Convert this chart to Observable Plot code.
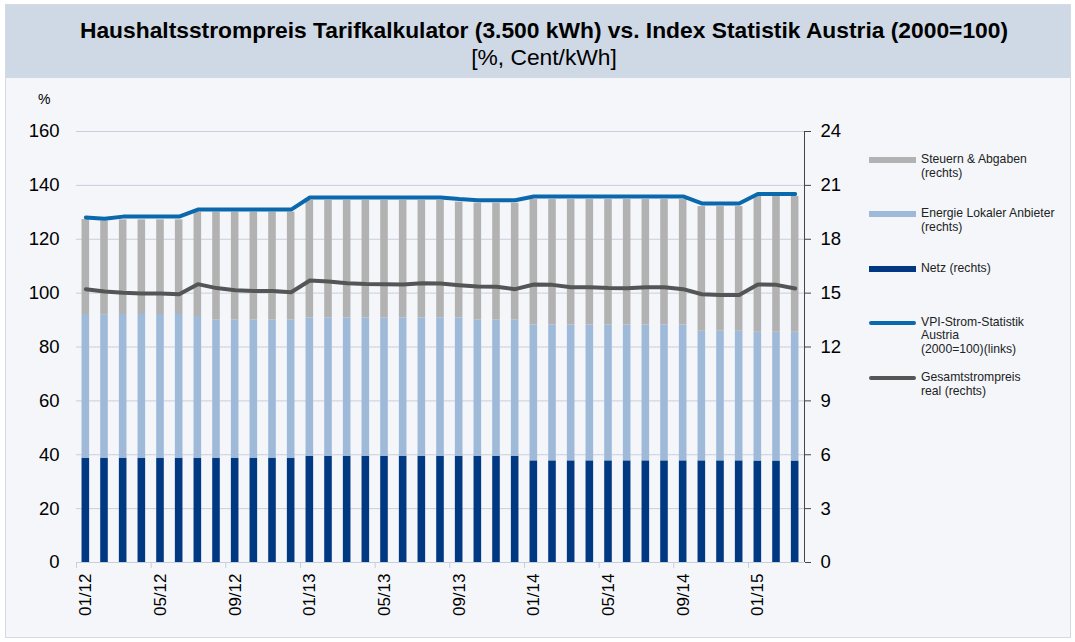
<!DOCTYPE html>
<html>
<head>
<meta charset="utf-8">
<script src="https://cdn.jsdelivr.net/npm/d3@7"></script>
<script src="https://cdn.jsdelivr.net/npm/@observablehq/plot@0.6"></script>
<style>
  html, body { margin: 0; padding: 0; background: #ffffff; }
  body { width: 1075px; height: 642px; position: relative; overflow: hidden; font-family: "Liberation Sans", Arial, sans-serif; }
  #frame { position: absolute; left: 5px; top: 4px; width: 1064px; height: 632px; background: #f4f6fa; border: 1px solid #d3dae4; }
  #titlebar { position: absolute; left: 6px; top: 5px; width: 1064px; height: 73px; background: #cfd9e5; }
  #title { position: absolute; left: 0; width: 1088px; top: 17px; text-align: center; font-weight: bold; font-size: 22.8px; line-height: 26px; color: #000; }
  #subtitle { position: absolute; left: 0; width: 1088px; top: 44px; text-align: center; font-size: 22.8px; line-height: 26px; color: #000; }
  #pct { position: absolute; left: 38px; top: 91px; font-size: 14px; color: #000; }
  #chart { position: absolute; left: 0; top: 80px; }
  .leg { position: absolute; left: 869px; font-size: 12.2px; line-height: 13.8px; color: #222; }
  .leg .sw { position: absolute; left: 0; width: 47px; }
  .leg .tx { position: absolute; left: 52px; width: 170px; }
</style>
</head>
<body>
<div id="frame"></div>
<div id="titlebar"></div>
<div id="title">Haushaltsstrompreis Tarifkalkulator (3.500 kWh) vs. Index Statistik Austria (2000=100)</div>
<div id="subtitle">[%, Cent/kWh]</div>
<div id="pct">%</div>
<div id="chart"></div>
<div id="legend"></div>
<script>
// ---- Data ----
const months = ["01/12","02/12","03/12","04/12","05/12","06/12","07/12","08/12","09/12","10/12","11/12","12/12",
                "01/13","02/13","03/13","04/13","05/13","06/13","07/13","08/13","09/13","10/13","11/13","12/13",
                "01/14","02/14","03/14","04/14","05/14","06/14","07/14","08/14","09/14","10/14","11/14","12/14",
                "01/15","02/15","03/15"];
const tickMonths = ["01/12","05/12","09/12","01/13","05/13","09/13","01/14","05/14","09/14","01/15"];

// Cent/kWh (right axis)
const netz = [5.81,5.81,5.81,5.81,5.81,5.81,5.81,5.81,5.81,5.81,5.81,5.81,
              5.92,5.92,5.92,5.92,5.92,5.92,5.92,5.92,5.92,5.92,5.92,5.92,
              5.66,5.66,5.66,5.66,5.66,5.66,5.66,5.66,5.66,5.66,5.66,5.66,
              5.65,5.65,5.65];
const energie = [8.00,7.96,8.00,8.00,8.00,8.00,7.89,7.70,7.70,7.70,7.70,7.70,
                 7.70,7.70,7.70,7.70,7.70,7.70,7.70,7.70,7.70,7.59,7.59,7.59,
                 7.57,7.57,7.57,7.57,7.57,7.57,7.57,7.57,7.57,7.22,7.22,7.22,
                 7.17,7.17,7.17];
const steuern = [5.29,5.24,5.27,5.27,5.27,5.27,5.81,6.00,6.00,6.00,6.00,6.00,
                 6.54,6.54,6.54,6.54,6.54,6.54,6.54,6.54,6.45,6.50,6.50,6.50,
                 6.98,6.98,6.98,6.98,6.98,6.98,6.98,6.98,6.98,6.94,6.94,6.94,
                 7.56,7.56,7.56];
const realPreis = [15.22,15.09,15.02,14.98,14.98,14.94,15.50,15.28,15.16,15.12,15.12,15.05,
                   15.70,15.65,15.55,15.51,15.50,15.48,15.55,15.53,15.44,15.37,15.35,15.22,
                   15.48,15.46,15.33,15.33,15.28,15.27,15.33,15.33,15.22,14.94,14.90,14.90,
                   15.48,15.46,15.26];
// Index 2000=100 (left axis)
const vpi = [128.1,127.6,128.4,128.4,128.4,128.4,131.0,131.0,131.0,131.0,131.0,131.0,
             135.5,135.5,135.5,135.5,135.5,135.5,135.5,135.5,134.9,134.5,134.5,134.5,
             135.9,135.9,135.9,135.9,135.9,135.9,135.9,135.9,135.9,133.3,133.3,133.3,
             136.8,136.8,136.8];

const leftTicks = [0,20,40,60,80,100,120,140,160];
const seriesNames = ["Netz (rechts)","Energie Lokaler Anbieter (rechts)","Steuern & Abgaben (rechts)"];
const seriesColors = ["#003882","#9fb9d9","#b2b2b2"];
const vpiColor = "#0a68ad";
const realColor = "#555555";
const gridColor = "#c7cfdc";

// ---- Build tables ----
const k = 160 / 24; // right axis (Cent/kWh) -> left axis scale
const stacked = [];
months.forEach((m, i) => {
  stacked.push({month: m, series: seriesNames[0], value: netz[i] * k});
  stacked.push({month: m, series: seriesNames[1], value: energie[i] * k});
  stacked.push({month: m, series: seriesNames[2], value: steuern[i] * k});
});
const lines = months.map((m, i) => ({month: m, vpi: vpi[i], real: realPreis[i] * k}));

// ---- Layout ----
const W = 1075, H = 562;
const mL = 76, mR = W - 804, mT = 51, mB = 80;
const step = (W - mL - mR) / months.length;

const chart = Plot.plot({
  width: W, height: H,
  marginLeft: mL, marginRight: mR, marginTop: mT, marginBottom: mB,
  style: {background: "transparent", fontFamily: "'Liberation Sans', Arial, sans-serif", color: "#000"},
  x: {domain: months, paddingInner: 0.593, paddingOuter: 0.2965, align: 0.5, round: false, axis: null},
  y: {domain: [0, 160], axis: null},
  color: {domain: seriesNames, range: seriesColors},
  marks: [
    Plot.gridY(leftTicks.filter(d => d > 0), {stroke: gridColor, strokeOpacity: 1, strokeWidth: 1}),
    Plot.ruleY([0], {stroke: gridColor, strokeWidth: 1.2}),
    Plot.barY(stacked, {x: "month", y: "value", fill: "series", order: seriesNames}),
    Plot.line(lines, {x: "month", y: "real", stroke: realColor, strokeWidth: 4, strokeLinecap: "round", strokeLinejoin: "round"}),
    Plot.line(lines, {x: "month", y: "vpi", stroke: vpiColor, strokeWidth: 4, strokeLinecap: "round", strokeLinejoin: "round"}),
    // left axis
    Plot.axisY(leftTicks, {anchor: "left", tickSize: 0, tickPadding: 17, fontSize: 18.5, label: null}),
    // right axis
    Plot.ruleX([months[months.length - 1]], {dx: step / 2, stroke: "#444", strokeWidth: 1}),
    Plot.axisY(leftTicks, {anchor: "right", tickSize: 6, tickPadding: 10, stroke: "#444", fontSize: 18.5, label: null,
                           tickFormat: d => String(Math.round(d * 24 / 160))}),
    // x ticks at category boundaries
    Plot.axisX(tickMonths, {anchor: "bottom", tickSize: 6, dx: -step / 2, stroke: gridColor, tickFormat: () => "", label: null}),
    // x labels
    Plot.axisX(tickMonths, {anchor: "bottom", tickSize: 0, tickPadding: 11, tickRotate: -90, fontSize: 17, label: null})
  ]
});
document.getElementById("chart").appendChild(chart);

// ---- Legend ----
const legendItems = [
  {label: "Steuern &amp; Abgaben<br>(rechts)", type: "bar", color: seriesColors[2], top: 160},
  {label: "Energie Lokaler Anbieter<br>(rechts)", type: "bar", color: seriesColors[1], top: 214},
  {label: "Netz (rechts)", type: "bar", color: seriesColors[0], top: 268.5},
  {label: "VPI-Strom-Statistik<br>Austria<br>(2000=100)(links)", type: "line", color: vpiColor, top: 322.5},
  {label: "Gesamtstrompreis<br>real (rechts)", type: "line", color: realColor, top: 378}
];
const leg = document.getElementById("legend");
legendItems.forEach(it => {
  const d = document.createElement("div");
  d.className = "leg";
  d.style.top = (it.top) + "px";
  const h = it.type === "bar" ? 6 : 4;
  d.innerHTML = `<div class="sw" style="top:${-h/2}px;height:${h}px;background:${it.color};border-radius:${it.type === "line" ? 2 : 0}px"></div>` +
                `<div class="tx" style="top:-7px">${it.label}</div>`;
  leg.appendChild(d);
});
</script>
</body>
</html>
